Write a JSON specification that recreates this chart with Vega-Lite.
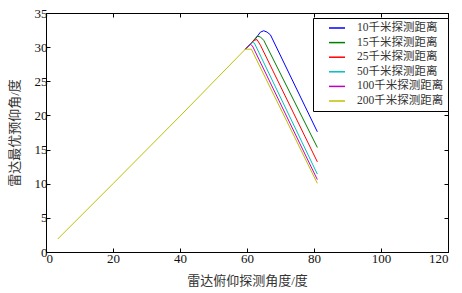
{
  "$schema": "https://vega.github.io/schema/vega-lite/v6.json",
  "autosize": "none",
  "width": 402,
  "height": 239,
  "padding": {"left": 46, "top": 13, "right": 14, "bottom": 41},
  "background": "white",
  "config": {
    "view": {"stroke": "black", "strokeWidth": 1},
    "font": "Liberation Serif, Noto Sans CJK SC",
    "axis": {
      "grid": false,
      "domainColor": "black",
      "tickColor": "black",
      "tickSize": -4,
      "labelFont": "Liberation Serif, Noto Sans CJK SC",
      "labelFontSize": 13,
      "labelColor": "#111",
      "titleFont": "Liberation Serif, Noto Sans CJK SC",
      "titleFontSize": 13,
      "titleFontWeight": "normal",
      "titleColor": "#333"
    }
  },
  "data": {
    "values": [
      {"s": "10千米探测距离", "x": 59.5, "y": 29.7},
      {"s": "10千米探测距离", "x": 62.5, "y": 31.2},
      {"s": "10千米探测距离", "x": 64, "y": 32.2},
      {"s": "10千米探测距离", "x": 65, "y": 32.4},
      {"s": "10千米探测距离", "x": 66, "y": 32.2},
      {"s": "10千米探测距离", "x": 67, "y": 31.8},
      {"s": "10千米探测距离", "x": 81, "y": 17.6},
      {"s": "15千米探测距离", "x": 59.5, "y": 29.7},
      {"s": "15千米探测距离", "x": 61.5, "y": 30.7},
      {"s": "15千米探测距离", "x": 63, "y": 31.6},
      {"s": "15千米探测距离", "x": 64, "y": 31.5},
      {"s": "15千米探测距离", "x": 65, "y": 31.0},
      {"s": "15千米探测距离", "x": 81, "y": 15.3},
      {"s": "25千米探测距离", "x": 59.5, "y": 29.7},
      {"s": "25千米探测距离", "x": 62, "y": 31.0},
      {"s": "25千米探测距离", "x": 63, "y": 31.1},
      {"s": "25千米探测距离", "x": 64, "y": 30.3},
      {"s": "25千米探测距离", "x": 81, "y": 13.2},
      {"s": "50千米探测距离", "x": 59.5, "y": 29.7},
      {"s": "50千米探测距离", "x": 61.5, "y": 30.7},
      {"s": "50千米探测距离", "x": 62.2, "y": 30.6},
      {"s": "50千米探测距离", "x": 81, "y": 11.4},
      {"s": "100千米探测距离", "x": 59.5, "y": 29.7},
      {"s": "100千米探测距离", "x": 61, "y": 30.4},
      {"s": "100千米探测距离", "x": 61.6, "y": 30.2},
      {"s": "100千米探测距离", "x": 81, "y": 10.6},
      {"s": "200千米探测距离", "x": 3.5, "y": 1.9},
      {"s": "200千米探测距离", "x": 20, "y": 10.0},
      {"s": "200千米探测距离", "x": 40, "y": 19.9},
      {"s": "200千米探测距离", "x": 59.5, "y": 29.7},
      {"s": "200千米探测距离", "x": 61.3, "y": 29.7},
      {"s": "200千米探测距离", "x": 81, "y": 10.05}
    ]
  },
  "resolve": {"axis": {"x": "independent", "y": "independent"}},
  "layer": [
    {
      "mark": {"type": "line", "strokeWidth": 1},
      "encoding": {
        "x": {"field": "x", "type": "quantitative", "scale": {"domain": [0, 120], "nice": false},
              "axis": {"values": [0, 20, 40, 60, 80, 100, 120], "title": "雷达俯仰探测角度/度", "labelPadding": 4, "titlePadding": 9}},
        "y": {"field": "y", "type": "quantitative", "scale": {"domain": [0, 35], "nice": false},
              "axis": {"values": [0, 5, 10, 15, 20, 25, 30, 35], "title": "雷达最优预仰角/度", "labelPadding": 3, "titlePadding": 13}},
        "color": {
          "field": "s", "type": "nominal",
          "sort": ["10千米探测距离", "15千米探测距离", "25千米探测距离", "50千米探测距离", "100千米探测距离", "200千米探测距离"],
          "scale": {"range": ["#0000ff", "#008000", "#ff0000", "#00bfbf", "#bf00bf", "#bfbf00"]},
          "legend": {
            "title": null,
            "orient": "none",
            "legendX": 267,
            "legendY": 5,
            "strokeColor": "black",
            "fillColor": "white",
            "padding": 4,
            "symbolType": "M-1.6,0H1.6",
            "symbolSize": 100,
            "symbolStrokeWidth": 1.5,
            "symbolOffset": 14,
            "labelOffset": 14,
            "labelFont": "Liberation Serif, Noto Sans CJK SC",
            "labelFontSize": 11.5,
            "labelColor": "#333",
            "rowPadding": 2.6
          }
        }
      }
    },
    {
      "mark": {"type": "rule", "opacity": 0},
      "encoding": {
        "x": {"field": "x", "type": "quantitative", "aggregate": "min",
              "axis": {"orient": "top", "values": [0, 20, 40, 60, 80, 100, 120], "labels": false, "title": null}},
        "y": {"field": "y", "type": "quantitative", "aggregate": "min",
              "axis": {"orient": "right", "values": [0, 5, 10, 15, 20, 25, 30, 35], "labels": false, "title": null}}
      }
    }
  ]
}
